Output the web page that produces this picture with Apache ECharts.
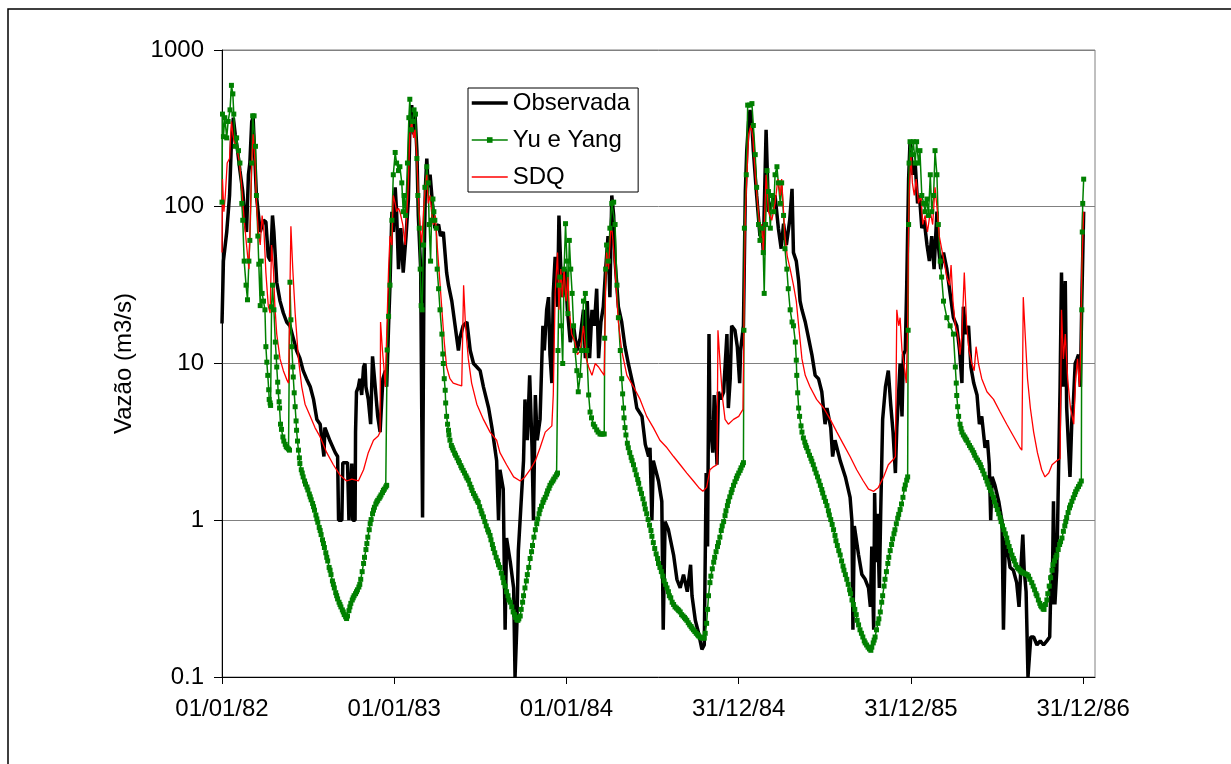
<!DOCTYPE html>
<html>
<head>
<meta charset="utf-8">
<title>Vazão observada x simulada</title>
<script src="https://cdn.jsdelivr.net/npm/echarts@6/dist/echarts.min.js"></script>
<style>
  html, body { margin: 0; padding: 0; background: #fff; }
  #dataView { width: 1231px; height: 764px; }
</style>
</head>
<body>
<div id="dataView"></div>
<script>
// eixo x em dias a partir de 01/01/82
var xTickDays = [0, 365, 730, 1095, 1460, 1825];
var xTickLabels = ['01/01/82', '01/01/83', '01/01/84', '31/12/84', '31/12/85', '31/12/86'];
var seriesNames = ['Observada', 'Yu e Yang', 'SDQ'];

// [dia, vazão m3/s]
var observada = [[0,18],[3,45],[6,44],[10,69],[16,118],[20,258],[24,370],[28,290],[33,228],[38,170],[44,125],[49,82],[52,69],[56,160],[59,190],[63,350],[66,370],[70,190],[73,118],[81,69],[88,82],[93,80],[98,48],[103,45],[107,88],[110,69],[116,33],[123,25],[130,21],[137,18.4],[144,17.4],[151,14.5],[158,12.1],[165,10.8],[172,9.0],[179,8.0],[187,7.1],[194,5.9],[201,4.4],[208,4.1],[216,2.55],[218,3.9],[229,3.2],[240,2.7],[245,2.55],[247,1.0],[254,1.0],[256,2.33],[266,2.33],[269,1.0],[275,2.3],[277,1.0],[282,1.0],[283,3.65],[285,6.6],[289,7.1],[292,8],[296,6.3],[300,9.5],[303,10],[305,7.1],[310,5.9],[315,4.1],[319,11.1],[324,7.5],[330,4.6],[335,3.65],[341,8],[346,9],[349,7.1],[353,17.4],[356,31.6],[360,93],[363,69],[367,133],[370,93],[374,40],[379,73],[384,38],[390,65],[395,112],[398,310],[402,445],[406,290],[409,390],[413,228],[416,88],[421,40],[425,1.04],[428,40],[431,133],[434,203],[437,133],[441,160],[446,105],[451,73],[459,77],[463,65],[469,69],[476,38],[480,31.6],[487,25],[494,17.4],[501,12.1],[504,14.5],[511,17.4],[519,18.4],[526,12.1],[533,10],[540,9.5],[547,9.0],[554,7.1],[565,5.2],[572,3.9],[582,2.4],[586,1.0],[589,2.1],[596,1.58],[600,0.2],[603,0.77],[611,0.54],[618,0.37],[621,0.1],[625,0.22],[628,0.64],[633,1.17],[639,2.4],[642,5.9],[647,3.24],[652,8.4],[657,2.9],[660,1.0],[664,6.3],[668,3.24],[674,4.4],[680,17.4],[683,12.1],[688,22],[692,26.5],[695,11.4],[699,7.5],[702,28],[706,48],[711,23],[714,88],[718,40],[722,26.5],[727,40],[732,22],[738,13.7],[745,17.4],[752,12.1],[759,14.5],[766,22],[770,10.8],[774,25],[779,10.8],[784,22],[789,17.4],[794,30],[798,10.8],[803,18.4],[808,23],[813,40],[818,65],[822,26.5],[826,118],[830,88],[833,45],[840,23],[847,18.4],[854,12.8],[861,10],[872,7.1],[879,5.2],[890,4.6],[897,3.05],[904,2.55],[907,2.9],[911,1.0],[914,2.4],[925,1.78],[932,1.32],[935,0.2],[939,0.98],[946,0.87],[957,0.6],[964,0.42],[971,0.37],[978,0.45],[986,0.35],[993,0.52],[996,0.33],[1003,0.23],[1010,0.19],[1017,0.15],[1022,0.16],[1026,2.0],[1029,0.68],[1032,15.4],[1034,4.4],[1040,2.7],[1043,6.3],[1049,2.26],[1052,6.6],[1057,5.9],[1063,6.6],[1070,15.4],[1073,5.2],[1077,8],[1080,17.4],[1087,16.3],[1092,12.8],[1097,7.5],[1099,12.1],[1105,17.4],[1109,125],[1112,228],[1116,350],[1119,415],[1123,330],[1126,228],[1133,118],[1140,65],[1144,77],[1147,51],[1153,310],[1158,93],[1165,105],[1172,118],[1179,73],[1185,54],[1190,78],[1196,57],[1203,82],[1208,130],[1211,51],[1217,45],[1222,33.6],[1225,25],[1229,22],[1236,18.4],[1243,14.5],[1250,11.4],[1257,8.4],[1264,8],[1271,6.6],[1278,4.1],[1282,5.2],[1290,3.9],[1294,2.55],[1299,3.24],[1310,2.4],[1321,1.89],[1331,1.4],[1335,0.98],[1337,0.2],[1340,0.92],[1349,0.6],[1356,0.45],[1363,0.42],[1370,0.37],[1374,0.28],[1377,0.68],[1381,0.2],[1383,1.49],[1386,0.54],[1389,1.1],[1393,0.37],[1396,1.17],[1400,4.4],[1406,7.1],[1412,9],[1417,5.5],[1422,3.65],[1427,2.0],[1430,3.9],[1434,6.6],[1437,10],[1441,4.6],[1444,11.4],[1448,12.1],[1451,31.6],[1455,150],[1458,260],[1464,160],[1469,190],[1474,105],[1478,118],[1483,73],[1488,82],[1494,57],[1499,45],[1504,65],[1509,40],[1515,93],[1518,57],[1523,40],[1529,51],[1536,40],[1543,28],[1550,19.6],[1557,17.4],[1563,12.1],[1568,7.5],[1571,23],[1577,15.4],[1582,17.4],[1587,9.5],[1593,7.5],[1600,6.3],[1605,4.1],[1610,4.6],[1617,2.9],[1622,3.24],[1626,2.26],[1629,1.0],[1632,1.89],[1638,1.67],[1646,1.32],[1653,0.98],[1656,0.2],[1660,0.77],[1665,0.64],[1670,0.5],[1677,0.48],[1684,0.4],[1689,0.28],[1693,0.5],[1697,0.81],[1700,0.48],[1704,0.35],[1708,0.1],[1711,0.1],[1714,0.18],[1720,0.18],[1727,0.16],[1734,0.17],[1741,0.16],[1748,0.17],[1754,0.18],[1757,0.45],[1759,0.29],[1762,1.32],[1765,0.29],[1769,0.48],[1773,0.48],[1776,7.1],[1779,38],[1783,7.1],[1787,33.6],[1790,5.2],[1794,2.9],[1797,1.89],[1801,4.4],[1804,5.5],[1808,10],[1812,10.7],[1815,11.4],[1819,7.1],[1822,25],[1826,93]];

var yuYang = [[0,107],[1,390],[3,280],[6,370],[10,275],[13,350],[17,415],[20,595],[23,525],[25,390],[28,243],[31,275],[35,228],[38,190],[42,105],[44,82],[47,45],[51,31.6],[54,25.5],[57,45],[59,61],[63,190],[65,380],[68,380],[71,243],[73,118],[76,65],[78,43],[81,23.4],[83,45],[85,28],[88,25],[91,22],[93,12.8],[95,10.2],[97,8.4],[99,6.8],[100,5.9],[102,5.6],[103,5.4],[105,23],[107,31.6],[110,22],[113,13.7],[115,11],[116,9.5],[118,7.6],[119,6.6],[121,5.7],[122,5.2],[124,4.1],[126,3.8],[129,3.4],[131,3.2],[134,3.05],[136,2.95],[138,2.9],[141,2.85],[143,2.8],
	[144,33],[146,19],[148,12.8],[150,9.5],[151,8.2],[153,6.5],[155,5.3],[157,4.3],[158,3.75],[160,3.2],[162,2.8],[164,2.5],[165,2.3],[168,2.1],[170,2.0],[172,1.89],[175,1.78],[177,1.7],[180,1.63],[182,1.56],[185,1.47],[187,1.41],[189,1.35],[192,1.28],[194,1.22],[196,1.16],[199,1.08],[201,1.02],[203,0.97],[206,0.9],[208,0.86],[210,0.81],[213,0.75],[215,0.71],[217,0.67],[220,0.62],[222,0.58],[224,0.55],[227,0.5],[229,0.48],[231,0.45],[234,0.41],[236,0.39],[238,0.37],[241,0.345],[243,0.33],[245,0.315],[248,0.3],[250,0.29],[252,0.28],[255,0.268],[257,0.26],[259,0.25],[262,0.242],[264,0.236],[266,0.245],[269,0.265],[271,0.28],[273,0.295],[276,0.31],[278,0.32],[280,0.33],[283,0.34],[285,0.35],[287,0.36],[290,0.375],[292,0.39],[294,0.42],[297,0.47],[300,0.53],[302,0.58],[305,0.65],[307,0.71],[309,0.78],[312,0.87],[314,0.95],[316,1.01],[319,1.1],[321,1.16],[323,1.21],[326,1.27],[328,1.31],[330,1.34],[333,1.38],[335,1.41],[337,1.45],[340,1.5],[342,1.55],[344,1.58],[347,1.63],[349,1.67],
	[350,12.2],[353,20],[356,31.6],[360,82],[363,160],[367,222],[370,190],[374,170],[377,180],[381,142],[384,93],[386,118],[389,88],[393,190],[396,370],[398,485],[401,310],[404,350],[407,415],[410,390],[413,203],[415,118],[418,73],[420,40],[422,23.4],[424,22],[427,57],[430,133],[434,180],[437,142],[439,77],[442,45],[444,82],[447,112],[449,93],[451,82],[454,73],[456,40],[459,30],[462,22],[466,15.4],
	[468,11.5],[469,10],[471,8],[473,6.75],[474,5.6],[476,4.6],[478,4.1],[480,3.75],[481,3.5],[483,3.24],[486,3.0],[488,2.9],[490,2.8],[493,2.68],[495,2.6],[498,2.5],[501,2.4],[503,2.33],[506,2.23],[508,2.16],[511,2.08],[514,2.0],[517,1.92],[519,1.86],[522,1.8],[525,1.7],[528,1.62],[530,1.55],[533,1.48],[536,1.43],[538,1.38],[541,1.33],[543,1.3],[546,1.22],[549,1.15],[551,1.1],[554,1.05],[557,0.98],[560,0.92],[563,0.87],[565,0.84],[568,0.8],[570,0.75],[573,0.7],[575,0.66],[578,0.62],[581,0.58],[584,0.55],[586,0.52],[589,0.5],[592,0.46],[595,0.43],[597,0.4],[600,0.38],[603,0.35],[606,0.33],[608,0.31],[611,0.3],[614,0.28],[617,0.26],[620,0.25],[622,0.24],[625,0.232],[627,0.23],[629,0.235],[632,0.245],[634,0.27],[637,0.3],[639,0.33],[642,0.37],[645,0.41],[647,0.45],[650,0.5],[653,0.57],[656,0.63],[658,0.69],[661,0.78],[664,0.87],[667,0.95],[669,1.02],[672,1.1],[674,1.17],[677,1.23],[680,1.3],[682,1.35],[685,1.4],[688,1.47],[690,1.54],[693,1.6],[695,1.67],[698,1.73],[701,1.78],[703,1.83],[706,1.89],[709,1.95],[711,2.0],
	[712,12.1],[714,31.6],[716,35.6],[719,17.4],[722,10],[725,40],[728,78],[731,45],[733,20.8],[736,61],[739,40],[742,28],[745,17.4],[748,12.1],[752,9],[755,6.6],[759,8.4],[762,12.1],[766,25],[770,28],[773,12.1],[777,6.3],[780,4.9],[783,4.5],[787,4.1],[790,3.95],[794,3.77],[797,3.65],[801,3.55],[804,3.55],[807,3.55],[810,3.55],
	[811,14.5],[813,40],[815,57],[819,45],[822,73],[826,105],[830,107],[833,77],[837,31.6],[840,19.6],[844,12.1],[847,8],
	[849,6.4],[851,5.2],[852,4.5],[854,3.9],[856,3.5],[859,3.1],[861,2.9],[864,2.7],[867,2.52],[869,2.4],[872,2.26],[875,2.1],[878,1.95],[881,1.82],[883,1.72],[886,1.58],[889,1.48],[892,1.37],[895,1.27],[897,1.18],[900,1.1],[903,1.01],[906,0.93],[909,0.86],[911,0.79],[914,0.72],[917,0.66],[920,0.61],[923,0.57],[925,0.53],[928,0.5],[931,0.47],[934,0.44],[937,0.41],[940,0.39],[943,0.37],[946,0.35],[948,0.33],[951,0.32],[954,0.3],[957,0.29],[960,0.28],[963,0.275],[966,0.27],[968,0.265],[971,0.26],[974,0.25],[977,0.245],[980,0.24],[982,0.235],[985,0.23],[988,0.222],[991,0.215],[994,0.21],[996,0.205],[999,0.2],[1002,0.195],[1005,0.19],[1008,0.186],[1010,0.183],[1013,0.18],[1016,0.178],[1019,0.177],[1022,0.177],[1024,0.19],[1027,0.22],[1029,0.27],[1031,0.33],[1034,0.4],[1036,0.44],[1039,0.49],[1042,0.54],[1044,0.58],[1047,0.63],[1050,0.68],[1052,0.72],[1055,0.78],[1058,0.86],[1060,0.92],[1063,0.98],[1066,1.07],[1068,1.15],[1071,1.24],[1073,1.32],[1076,1.41],[1079,1.5],[1081,1.57],[1084,1.67],[1087,1.76],[1090,1.85],[1092,1.92],[1095,2.0],[1098,2.08],[1100,2.16],[1103,2.25],[1105,2.33],
	[1106,16.3],[1107,73],[1111,160],[1114,445],[1118,445],[1123,455],[1126,330],[1130,215],[1133,133],[1137,77],[1140,61],[1144,73],[1147,51],[1149,28],[1152,77],[1155,170],[1158,125],[1162,73],[1165,118],[1169,93],[1172,160],[1176,180],[1179,142],[1183,105],[1186,142],[1190,88],[1193,54],[1197,40],[1200,30],[1204,22],[1208,18.4],[1211,17.4],[1215,13.7],
	[1217,10.5],[1218,8.4],[1220,6.5],[1222,5.2],[1224,4.6],[1227,4.0],[1229,3.65],[1232,3.35],[1235,3.15],[1237,3.0],[1239,2.9],[1242,2.75],[1245,2.6],[1248,2.48],[1250,2.38],[1253,2.26],[1256,2.12],[1259,2.0],[1262,1.89],[1265,1.78],[1268,1.67],[1271,1.57],[1273,1.49],[1276,1.4],[1279,1.32],[1282,1.24],[1285,1.15],[1287,1.08],[1290,1.01],[1293,0.94],[1296,0.87],[1299,0.8],[1301,0.74],[1304,0.69],[1307,0.64],[1310,0.6],[1313,0.55],[1316,0.51],[1318,0.48],[1321,0.45],[1324,0.42],[1327,0.39],[1330,0.36],[1332,0.34],[1335,0.31],[1338,0.29],[1341,0.27],[1344,0.25],[1346,0.23],[1349,0.215],[1352,0.2],[1355,0.19],[1358,0.18],[1361,0.17],[1363,0.165],[1366,0.16],[1369,0.155],[1372,0.151],[1375,0.148],[1377,0.155],[1380,0.165],[1382,0.172],[1384,0.18],[1387,0.2],[1390,0.22],[1392,0.235],[1395,0.26],[1398,0.3],[1400,0.33],[1403,0.38],[1405,0.42],[1408,0.47],[1411,0.53],[1413,0.58],[1416,0.64],[1419,0.7],[1421,0.76],[1424,0.82],[1426,0.87],[1429,0.95],[1432,1.03],[1434,1.09],[1437,1.17],[1440,1.27],[1443,1.4],[1446,1.58],[1448,1.68],[1451,1.8],[1453,1.89],
	[1454,16.3],[1455,77],[1456,190],[1458,260],[1462,215],[1465,260],[1469,190],[1472,260],[1476,190],[1479,228],[1483,118],[1487,105],[1490,93],[1494,112],[1497,88],[1501,160],[1504,93],[1508,118],[1511,228],[1515,160],[1518,77],[1522,45],[1525,35.6],[1529,25],[1536,19.6],[1543,17.4],[1550,15.4],[1554,9.5],
	[1556,7.5],[1557,6.25],[1559,5.3],[1561,4.6],[1564,4.1],[1566,3.85],[1568,3.65],[1571,3.5],[1574,3.4],[1576,3.3],[1578,3.24],[1581,3.12],[1584,3.0],[1587,2.9],[1590,2.8],[1593,2.7],[1595,2.6],[1598,2.5],[1601,2.42],[1604,2.34],[1607,2.26],[1609,2.17],[1612,2.07],[1615,1.97],[1618,1.87],[1621,1.78],[1623,1.7],[1626,1.62],[1629,1.55],[1632,1.47],[1635,1.4],[1637,1.31],[1640,1.24],[1643,1.17],[1646,1.1],[1649,1.04],[1651,0.98],[1654,0.92],[1657,0.87],[1660,0.82],[1663,0.77],[1665,0.72],[1668,0.68],[1671,0.64],[1674,0.6],[1677,0.57],[1679,0.55],[1682,0.52],[1685,0.5],[1688,0.49],[1691,0.48],[1693,0.47],[1696,0.465],[1699,0.46],[1702,0.455],[1706,0.45],[1709,0.44],[1712,0.42],[1716,0.4],[1719,0.38],[1722,0.36],[1725,0.34],[1727,0.33],[1730,0.31],[1733,0.295],[1735,0.285],[1737,0.28],[1740,0.272],[1742,0.27],[1745,0.29],[1748,0.31],[1750,0.34],[1753,0.38],[1756,0.43],[1759,0.48],[1761,0.52],[1764,0.55],[1767,0.58],[1769,0.6],[1772,0.65],[1775,0.7],[1777,0.73],[1780,0.77],[1783,0.85],[1786,0.92],[1788,0.98],[1790,1.04],[1793,1.12],[1796,1.2],[1798,1.25],[1801,1.32],[1804,1.39],[1807,1.46],[1809,1.52],[1812,1.58],[1815,1.64],[1818,1.7],[1821,1.78],
	[1822,22],[1823,69],[1824,105],[1826,150]];

var sdq = [[0,51],[1,150],[4,93],[7,118],[11,190],[16,203],[20,350],[23,290],[26,258],[31,243],[37,190],[42,133],[47,82],[52,57],[57,40],[59,65],[63,190],[66,290],[70,190],[73,105],[77,69],[81,57],[85,88],[89,69],[93,38],[98,23.4],[102,21],[105,57],[109,40],[112,23.4],[116,15.4],[123,10.7],[130,9.0],[138,7.8],[141,7.5],[146,75],[150,40],[155,21],[162,10.7],[169,7.1],[176,5.5],[187,4.6],[197,3.9],[208,3.4],[222,2.7],[236,2.26],[250,1.94],[264,1.78],[275,1.83],[289,1.78],[300,2.1],[310,2.7],[321,3.24],[331,3.45],[335,3.65],[336,18.4],[340,12.1],[343,9.5],[346,7.1],[349,15.4],[353,40],[356,65],[360,57],[363,118],[367,105],[370,93],[374,98],[377,93],[383,77],[388,57],[391,82],[395,142],[398,290],[402,350],[406,275],[409,310],[413,203],[416,118],[420,73],[423,57],[427,93],[430,125],[434,160],[437,105],[441,118],[444,93],[448,77],[452,88],[456,57],[461,35.6],[466,22],[471,13.7],[476,9.5],[483,8],[490,7.5],[501,7.3],[508,7.2],[512,31.6],[516,17.4],[522,10.7],[529,7.5],[540,5.5],[554,4.4],[568,3.65],[582,3.24],[589,2.7],[603,2.26],[618,1.89],[632,1.78],[642,1.89],[653,2.1],[664,2.4],[674,2.9],[685,3.65],[699,4.0],[702,6.3],[706,28],[711,51],[714,22],[718,40],[721,26.5],[725,40],[729,25],[733,35.6],[736,22],[741,15.4],[748,13.7],[753,11.4],[759,12.1],[766,17.4],[772,10.7],[777,9.5],[784,8.4],[791,10],[798,9.5],[803,9],[810,8.4],[813,31.6],[815,51],[819,40],[824,73],[827,69],[831,48],[835,31.6],[840,18.4],[847,12.1],[858,8.4],[872,7.1],[886,5.9],[900,4.6],[914,3.9],[928,3.24],[943,2.9],[957,2.55],[971,2.26],[985,2.0],[999,1.78],[1010,1.62],[1019,1.53],[1027,1.62],[1034,2.1],[1042,2.2],[1049,2.26],[1051,16.3],[1056,9.5],[1061,5.9],[1066,4.4],[1073,4.1],[1084,4.4],[1095,4.6],[1104,5.1],[1106,17.4],[1109,88],[1112,150],[1116,290],[1121,330],[1125,275],[1130,160],[1135,105],[1140,73],[1144,77],[1147,51],[1153,160],[1158,93],[1165,82],[1172,105],[1178,150],[1183,118],[1186,150],[1190,93],[1193,65],[1198,48],[1204,40],[1211,31.6],[1217,25],[1222,17.4],[1229,10.7],[1236,8.4],[1246,7.1],[1260,5.9],[1275,5.2],[1289,4.4],[1303,3.65],[1317,3.05],[1331,2.55],[1345,2.1],[1359,1.78],[1370,1.58],[1381,1.53],[1391,1.62],[1402,1.89],[1412,2.26],[1424,2.47],[1427,2.55],[1430,22],[1434,17.4],[1437,19.6],[1441,12.1],[1446,9.5],[1450,7.5],[1453,17.4],[1455,77],[1457,142],[1460,215],[1463,142],[1467,118],[1471,150],[1476,105],[1481,118],[1485,77],[1490,88],[1495,69],[1501,93],[1506,77],[1511,133],[1516,93],[1520,65],[1525,54],[1530,45],[1536,35.6],[1542,31.6],[1545,42.5],[1549,25],[1554,17.4],[1559,15.4],[1564,11.4],[1568,15.4],[1573,38],[1578,17.4],[1583,12.1],[1589,10],[1594,9],[1598,12.8],[1603,10],[1610,8],[1621,6.6],[1635,5.9],[1649,4.9],[1663,4.1],[1677,3.45],[1691,2.9],[1695,2.8],[1698,26.5],[1702,15.4],[1707,8],[1713,5.2],[1720,3.65],[1728,2.7],[1737,2.1],[1744,1.89],[1752,2.0],[1759,2.26],[1769,2.4],[1776,2.47],[1779,22],[1783,10.7],[1787,15.4],[1792,8],[1798,5.2],[1805,4.1],[1809,8],[1813,10.7],[1817,7.1],[1819,10.7],[1822,40],[1826,93]];

var FONT = '"Liberation Sans", Arial, sans-serif';

function xLabel(v) {
	var i = xTickDays.indexOf(Math.round(v));
	return i >= 0 ? xTickLabels[i] : '';
}

// legenda sem marcador para as séries só de linha
var noMark = { color: 'rgba(0,0,0,0)', borderWidth: 0 };

var dataViewcharts = echarts.init(document.getElementById('dataView'));
var dataViewoption = {
	animation: false,
	backgroundColor: '#fff',
	textStyle: { fontFamily: FONT },
	graphic: [{
		type: 'rect',
		silent: true,
		shape: { x: 8, y: 9, width: 1400, height: 900 },
		style: { fill: 'none', stroke: '#000', lineWidth: 1.5 }
	}],
	grid: {
		left: 222, right: 136, top: 50, bottom: 87,
		show: true,
		borderColor: '#808080',
		borderWidth: 1
	},
	legend: {
		orient: 'vertical',
		left: 468,
		top: 88,
		backgroundColor: '#fff',
		borderColor: '#000',
		borderWidth: 1,
		borderRadius: 0,
		padding: [3, 8, 3, 2],
		itemGap: 13,
		itemWidth: 36,
		itemHeight: 7,
		textStyle: { fontSize: 24, color: '#000', fontFamily: FONT },
		data: [
			{ name: seriesNames[0], itemStyle: noMark, lineStyle: { width: 3.5, color: '#000' } },
			{ name: seriesNames[1], lineStyle: { width: 1.5, color: '#008000' } },
			{ name: seriesNames[2], itemStyle: noMark, lineStyle: { width: 1.3, color: '#ff0000' } }
		]
	},
	xAxis: {
		type: 'value',
		min: 0,
		max: 1850,
		interval: 365,
		axisLine: { lineStyle: { color: '#000', width: 1 } },
		axisTick: { show: true, length: 7, customValues: xTickDays, lineStyle: { color: '#000' } },
		axisLabel: { fontSize: 24, color: '#000', margin: 20, customValues: xTickDays, formatter: xLabel },
		splitLine: { show: false }
	},
	yAxis: {
		type: 'log',
		logBase: 10,
		min: 0.1,
		max: 1000,
		name: 'Vazão (m3/s)',
		nameLocation: 'middle',
		nameGap: 86,
		nameTextStyle: { fontSize: 24, color: '#000', fontFamily: FONT },
		axisLine: { show: true, lineStyle: { color: '#000', width: 1 } },
		axisTick: { show: true, length: 8, lineStyle: { color: '#000' } },
		axisLabel: { fontSize: 24, color: '#000', margin: 18,
			formatter: function (v) { return String(Math.round(v * 10) / 10); } },
		splitLine: { show: true, lineStyle: { color: '#808080', width: 1 } },
		minorTick: { show: false },
		minorSplitLine: { show: false }
	},
	series: [
		{
			name: seriesNames[0],
			type: 'line',
			data: observada,
			symbol: 'none',
			color: '#000',
			lineStyle: { color: '#000', width: 3.5 },
			emphasis: { disabled: true }
		},
		{
			name: seriesNames[1],
			type: 'line',
			data: yuYang,
			symbol: 'rect',
			symbolSize: 5,
			showSymbol: true,
			showAllSymbol: true,
			color: '#008000',
			itemStyle: { color: '#008000' },
			lineStyle: { color: '#008000', width: 1.5 },
			emphasis: { disabled: true }
		},
		{
			name: seriesNames[2],
			type: 'line',
			data: sdq,
			symbol: 'none',
			color: '#ff0000',
			lineStyle: { color: '#ff0000', width: 1.3 },
			emphasis: { disabled: true }
		}
	]
};
dataViewcharts.setOption(dataViewoption);
</script>
</body>
</html>
